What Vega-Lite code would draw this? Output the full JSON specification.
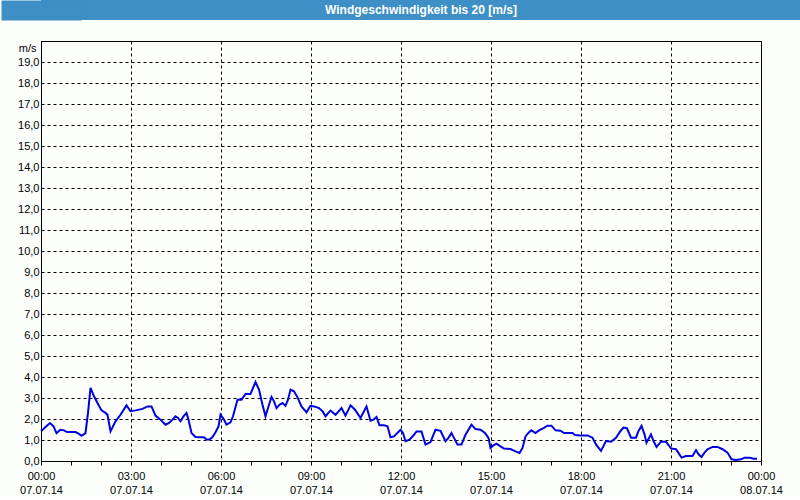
{
  "$schema": "https://vega.github.io/schema/vega-lite/v6.json",
  "padding": 0,
  "background": "#fcfefc",
  "spacing": 20,
  "config": {"view": {"stroke": null}},
  "vconcat": [
    {
      "width": 760,
      "height": 20,
      "view": {"fill": "#3d8fc6", "stroke": null},
      "data": {"values": [{"label": "Windgeschwindigkeit bis 20 [m/s]"}]},
      "mark": {"type": "text", "color": "white", "font": "Liberation Sans", "fontSize": 12, "fontWeight": "bold", "align": "center", "baseline": "middle"},
      "encoding": {
        "text": {"field": "label", "type": "nominal"},
        "y": {
          "field": "label", "type": "nominal",
          "axis": {"title": null, "labels": false, "ticks": false, "grid": false, "domain": true, "domainColor": "#3d8fc6", "domainWidth": 80, "domainCap": "butt", "minExtent": 40, "maxExtent": 40}
        }
      }
    },
    {
      "width": 720,
      "height": 420,
      "view": {"stroke": "black", "strokeWidth": 1, "fill": "#fcfefc"},
      "data": {"values": [
        {"h": 0, "v": 1.41}, {"h": 0.15, "v": 1.62}, {"h": 0.3, "v": 1.81}, {"h": 0.417, "v": 1.65},
        {"h": 0.517, "v": 1.33}, {"h": 0.65, "v": 1.49}, {"h": 0.767, "v": 1.46}, {"h": 0.867, "v": 1.38},
        {"h": 1.15, "v": 1.38}, {"h": 1.267, "v": 1.29}, {"h": 1.35, "v": 1.2}, {"h": 1.483, "v": 1.33},
        {"h": 1.567, "v": 2.29}, {"h": 1.65, "v": 3.48}, {"h": 1.767, "v": 3.08}, {"h": 1.883, "v": 2.76},
        {"h": 2.017, "v": 2.41}, {"h": 2.15, "v": 2.29}, {"h": 2.217, "v": 2.2}, {"h": 2.317, "v": 1.41},
        {"h": 2.483, "v": 1.89}, {"h": 2.65, "v": 2.2}, {"h": 2.85, "v": 2.65}, {"h": 2.983, "v": 2.37},
        {"h": 3.15, "v": 2.41}, {"h": 3.383, "v": 2.48}, {"h": 3.55, "v": 2.6}, {"h": 3.683, "v": 2.6},
        {"h": 3.817, "v": 2.16}, {"h": 3.983, "v": 1.97}, {"h": 4.15, "v": 1.73}, {"h": 4.267, "v": 1.81},
        {"h": 4.383, "v": 1.97}, {"h": 4.483, "v": 2.13}, {"h": 4.567, "v": 2.05}, {"h": 4.65, "v": 1.89},
        {"h": 4.75, "v": 2.13}, {"h": 4.85, "v": 2.29}, {"h": 4.917, "v": 1.97}, {"h": 5.017, "v": 1.33},
        {"h": 5.15, "v": 1.14}, {"h": 5.317, "v": 1.13}, {"h": 5.433, "v": 1.13}, {"h": 5.517, "v": 1.02},
        {"h": 5.617, "v": 1.02}, {"h": 5.717, "v": 1.14}, {"h": 5.817, "v": 1.37}, {"h": 5.917, "v": 1.65},
        {"h": 5.983, "v": 2.2}, {"h": 6.1, "v": 1.97}, {"h": 6.183, "v": 1.73}, {"h": 6.317, "v": 1.84},
        {"h": 6.4, "v": 2.13}, {"h": 6.55, "v": 2.92}, {"h": 6.683, "v": 2.92}, {"h": 6.817, "v": 3.19},
        {"h": 6.983, "v": 3.19}, {"h": 7.15, "v": 3.76}, {"h": 7.267, "v": 3.4}, {"h": 7.383, "v": 2.68},
        {"h": 7.483, "v": 2.13}, {"h": 7.6, "v": 2.68}, {"h": 7.683, "v": 3.05}, {"h": 7.767, "v": 2.84},
        {"h": 7.85, "v": 2.52}, {"h": 7.95, "v": 2.68}, {"h": 8.05, "v": 2.76}, {"h": 8.15, "v": 2.63},
        {"h": 8.233, "v": 2.92}, {"h": 8.317, "v": 3.4}, {"h": 8.433, "v": 3.32}, {"h": 8.55, "v": 3.03},
        {"h": 8.683, "v": 2.6}, {"h": 8.85, "v": 2.32}, {"h": 8.983, "v": 2.63}, {"h": 9.1, "v": 2.6},
        {"h": 9.267, "v": 2.52}, {"h": 9.383, "v": 2.37}, {"h": 9.483, "v": 2.13}, {"h": 9.65, "v": 2.4},
        {"h": 9.817, "v": 2.2}, {"h": 10.017, "v": 2.52}, {"h": 10.15, "v": 2.16}, {"h": 10.317, "v": 2.65},
        {"h": 10.467, "v": 2.44}, {"h": 10.65, "v": 2.05}, {"h": 10.85, "v": 2.6}, {"h": 10.983, "v": 1.92},
        {"h": 11.083, "v": 1.97}, {"h": 11.183, "v": 2.1}, {"h": 11.283, "v": 1.7}, {"h": 11.433, "v": 1.7},
        {"h": 11.55, "v": 1.65}, {"h": 11.65, "v": 1.13}, {"h": 11.767, "v": 1.17}, {"h": 11.983, "v": 1.49},
        {"h": 12.067, "v": 1.33}, {"h": 12.15, "v": 0.94}, {"h": 12.283, "v": 1.02}, {"h": 12.433, "v": 1.25},
        {"h": 12.517, "v": 1.41}, {"h": 12.683, "v": 1.41}, {"h": 12.817, "v": 0.78}, {"h": 12.983, "v": 0.9},
        {"h": 13.15, "v": 1.49}, {"h": 13.317, "v": 1.44}, {"h": 13.483, "v": 0.94}, {"h": 13.583, "v": 1.1},
        {"h": 13.683, "v": 1.33}, {"h": 13.767, "v": 1.1}, {"h": 13.883, "v": 0.78}, {"h": 14.017, "v": 0.78},
        {"h": 14.15, "v": 1.25}, {"h": 14.35, "v": 1.73}, {"h": 14.483, "v": 1.52}, {"h": 14.65, "v": 1.49},
        {"h": 14.8, "v": 1.33}, {"h": 14.917, "v": 1.1}, {"h": 14.983, "v": 0.62}, {"h": 15.067, "v": 0.73},
        {"h": 15.183, "v": 0.83}, {"h": 15.317, "v": 0.7}, {"h": 15.433, "v": 0.59}, {"h": 15.65, "v": 0.57},
        {"h": 15.817, "v": 0.46}, {"h": 15.95, "v": 0.38}, {"h": 16.05, "v": 0.62}, {"h": 16.15, "v": 1.17},
        {"h": 16.267, "v": 1.37}, {"h": 16.35, "v": 1.46}, {"h": 16.483, "v": 1.33}, {"h": 16.6, "v": 1.46},
        {"h": 16.75, "v": 1.57}, {"h": 16.883, "v": 1.68}, {"h": 17.017, "v": 1.68}, {"h": 17.15, "v": 1.46},
        {"h": 17.317, "v": 1.44}, {"h": 17.433, "v": 1.33}, {"h": 17.717, "v": 1.33}, {"h": 17.8, "v": 1.24},
        {"h": 17.983, "v": 1.22}, {"h": 18.217, "v": 1.22}, {"h": 18.383, "v": 1.11}, {"h": 18.5, "v": 0.79},
        {"h": 18.667, "v": 0.48}, {"h": 18.833, "v": 0.95}, {"h": 19, "v": 0.92}, {"h": 19.167, "v": 1.11},
        {"h": 19.317, "v": 1.43}, {"h": 19.417, "v": 1.59}, {"h": 19.533, "v": 1.56}, {"h": 19.667, "v": 1.11},
        {"h": 19.833, "v": 1.11}, {"h": 19.917, "v": 1.43}, {"h": 20.017, "v": 1.67}, {"h": 20.117, "v": 1.27},
        {"h": 20.183, "v": 0.87}, {"h": 20.333, "v": 1.27}, {"h": 20.417, "v": 0.95}, {"h": 20.517, "v": 0.67},
        {"h": 20.667, "v": 0.92}, {"h": 20.833, "v": 0.92}, {"h": 21, "v": 0.6}, {"h": 21.167, "v": 0.56},
        {"h": 21.35, "v": 0.16}, {"h": 21.5, "v": 0.24}, {"h": 21.717, "v": 0.24}, {"h": 21.833, "v": 0.52},
        {"h": 21.917, "v": 0.32}, {"h": 22.017, "v": 0.19}, {"h": 22.117, "v": 0.4}, {"h": 22.217, "v": 0.56},
        {"h": 22.383, "v": 0.67}, {"h": 22.55, "v": 0.67}, {"h": 22.717, "v": 0.56}, {"h": 22.883, "v": 0.4},
        {"h": 23.017, "v": 0.08}, {"h": 23.167, "v": 0.05}, {"h": 23.333, "v": 0.08}, {"h": 23.45, "v": 0.16},
        {"h": 23.617, "v": 0.16}, {"h": 23.75, "v": 0.11}, {"h": 23.867, "v": 0.11}
      ]},
      "mark": {"type": "line", "color": "#0000e0", "strokeWidth": 2},
      "encoding": {
        "x": {
          "field": "h", "type": "quantitative",
          "scale": {"domain": [0, 24], "nice": false, "zero": false},
          "axis": {
            "title": null,
            "values": [0, 1, 2, 3, 4, 5, 6, 7, 8, 9, 10, 11, 12, 13, 14, 15, 16, 17, 18, 19, 20, 21, 22, 23, 24],
            "grid": true,
            "gridColor": "black",
            "gridDash": [3, 3],
            "gridWidth": 1,
            "gridOpacity": {"condition": {"test": "datum.value % 3 == 0", "value": 1}, "value": 0},
            "domain": false,
            "ticks": true,
            "tickColor": "black",
            "tickSize": 4,
            "labelExpr": "datum.value % 3 == 0 ? [(datum.value % 24 < 10 ? '0' : '') + (datum.value % 24) + ':00', datum.value < 24 ? '07.07.14' : '08.07.14'] : ''",
            "labelOverlap": false,
            "labelFlush": false,
            "labelBound": false,
            "labelFont": "Liberation Sans",
            "labelFontSize": 11,
            "labelColor": "black",
            "labelPadding": 5,
            "labelBaseline": "top",
            "labelLineHeight": 14
          }
        },
        "y": {
          "field": "v", "type": "quantitative",
          "scale": {"domain": [0, 20], "nice": false, "zero": true},
          "axis": {
            "values": [0, 1, 2, 3, 4, 5, 6, 7, 8, 9, 10, 11, 12, 13, 14, 15, 16, 17, 18, 19],
            "grid": true,
            "gridColor": "black",
            "gridDash": [3, 3],
            "gridWidth": 1,
            "gridOpacity": 1,
            "ticks": false,
            "domain": false,
            "labelExpr": "replace(format(datum.value, '.1f'), '.', ',')",
            "labelFont": "Liberation Sans",
            "labelFontSize": 11,
            "labelColor": "black",
            "labelPadding": 2,
            "title": "m/s",
            "titleAngle": 0,
            "titleAlign": "right",
            "titleBaseline": "middle",
            "titleX": -5,
            "titleY": 7,
            "titleFont": "Liberation Sans",
            "titleFontSize": 11,
            "titleFontWeight": "normal",
            "titleColor": "black",
            "minExtent": 40,
            "maxExtent": 40
          }
        }
      }
    }
  ]
}
